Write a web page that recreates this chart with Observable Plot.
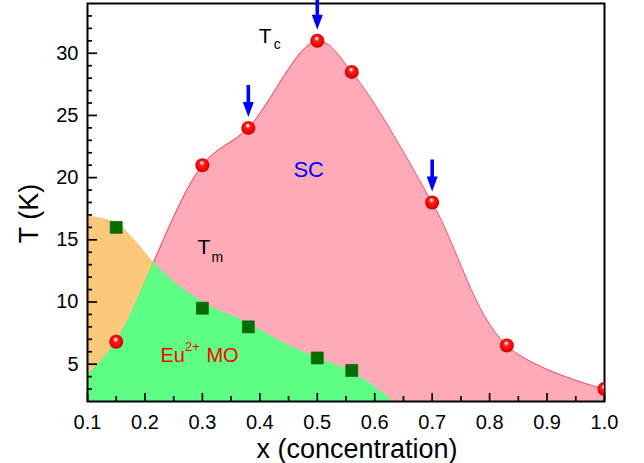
<!DOCTYPE html>
<html><head><meta charset="utf-8">
<script src="https://cdn.jsdelivr.net/npm/d3@7"></script>
<script src="https://cdn.jsdelivr.net/npm/@observablehq/plot@0.6"></script>
<style>html,body{margin:0;padding:0;background:#fff;} #chart svg{display:block;}</style>
</head><body><div id="chart"></div>
<script>
// Tc (superconducting transition) points
const tcX = [0.15, 0.30, 0.38, 0.50, 0.56, 0.70, 0.83, 1.00];
const tcT = [6.8, 21.0, 24.0, 31.0, 28.5, 18.0, 6.5, 3.0];
// Tm (Eu2+ magnetic ordering) points
const tmX = [0.15, 0.30, 0.38, 0.50, 0.56];
const tmT = [16.0, 9.5, 8.0, 5.5, 4.5];
// smooth Tc boundary of the SC dome
const tcCurveX = [0.10, 0.15, 0.30, 0.38, 0.50, 0.56, 0.70, 0.83, 1.00];
const tcCurveT = [4.1, 6.8, 21.0, 24.0, 31.0, 28.5, 18.0, 6.5, 3.0];
// upper edge of the magnetic-order region
const moEdgeX = [0.10, 0.15, 0.184, 0.215, 0.30, 0.38, 0.436, 0.50, 0.56, 0.633];
const moEdgeT = [16.9, 16.4, 14.9, 13.2, 10.0, 8.3, 6.85, 5.5, 4.4, 2.0];
// arrows marking selected samples
const arrowX = [0.38, 0.50, 0.70];
const arrowT = [24.0, 31.0, 18.0];
// ticks
const xTickLabels = [0.1, 0.2, 0.3, 0.4, 0.5, 0.6, 0.7, 0.8, 0.9, 1.0];
const xMinorTicks = [0.15, 0.25, 0.35, 0.45, 0.55, 0.65, 0.75, 0.85, 0.95];
const yTickLabels = [5, 10, 15, 20, 25, 30];
const yMinorTicks = d3.range(3, 34).filter(v => v % 5 !== 0);

const tc = tcX.map((x, i) => ({x, T: tcT[i]}));
const tm = tmX.map((x, i) => ({x, T: tmT[i]}));
const tcCurve = tcCurveX.map((x, i) => ({x, T: tcCurveT[i]}));
const moEdge = moEdgeX.map((x, i) => ({x, T: moEdgeT[i]}));
const arrows = arrowX.map((x, i) => ({x, T: arrowT[i]}));

const W = 644, H = 463, ML = 87, MR = 40, MT = 3, MB = 62;
const PW = W - ML - MR, PH = H - MT - MB;
const T0 = 2;

const arrowSymbol = {
  draw(ctx) {
    ctx.moveTo(-1.8, -43); ctx.lineTo(1.8, -43); ctx.lineTo(1.8, -26);
    ctx.lineTo(5.5, -26); ctx.lineTo(0, -11); ctx.lineTo(-5.5, -26);
    ctx.lineTo(-1.8, -26); ctx.closePath();
  }
};

const font = '"Liberation Sans", Arial, sans-serif';

const chart = Plot.plot({
  width: W, height: H,
  marginLeft: ML, marginRight: MR, marginTop: MT, marginBottom: MB,
  x: {domain: [0.1, 1.0]},
  y: {domain: [2, 34]},
  style: {fontFamily: font, fontSize: "20px", color: "black", background: "white", overflow: "visible"},
  marks: [
    Plot.areaY(moEdge, {x: "x", y1: d => T0, y2: "T", fill: "#fcc97b", curve: "monotone-x"}),
    Plot.areaY(tcCurve, {x: "x", y1: d => T0, y2: "T", fill: "#ffabb7", curve: "catmull-rom"}),
    Plot.line(tcCurve, {x: "x", y: "T", stroke: "#f04a64", strokeWidth: 1, curve: "catmull-rom"}),
    Plot.areaY(moEdge, {x: "x", y1: d => T0, y2: "T", fill: "#5dfe83", curve: "monotone-x"}),
    // inward ticks
    Plot.tickX(xTickLabels, {x: d => d, insetTop: PH - 8, stroke: "black", strokeWidth: 1.7}),
    Plot.tickX(xMinorTicks, {x: d => d, insetTop: PH - 5, stroke: "black", strokeWidth: 1.7}),
    Plot.tickY(yTickLabels, {y: d => d, insetRight: PW - 10, stroke: "black", strokeWidth: 1.7}),
    Plot.tickY(yMinorTicks, {y: d => d, insetRight: PW - 5, stroke: "black", strokeWidth: 1.7}),
    Plot.axisX(xTickLabels, {tickSize: 0, tickPadding: 13, tickFormat: d => d.toFixed(1), fontSize: 20, label: null}),
    Plot.axisY(yTickLabels, {tickSize: 0, tickPadding: 9, fontSize: 20, label: null}),
    Plot.frame({stroke: "black", strokeWidth: 2}),
    // data points
    Plot.dot(tm, {x: "x", y: "T", symbol: "square", r: 6.8, fill: "#006f00", stroke: "#0a5a0a", strokeWidth: 0.6}),
    Plot.dot(tc, {x: "x", y: "T", r: 7, fill: "url(#ball)", stroke: "none", clip: true}),
    Plot.dot(arrows, {x: "x", y: "T", symbol: arrowSymbol, r: 5, fill: "#0000ff", stroke: "none"}),
    // annotations
    Plot.text([{x: 0.398, T: 31.4}], {x: "x", y: "T", text: d => "T", textAnchor: "start", fontSize: 21, fill: "black"}),
    Plot.text([{x: 0.398, T: 31.4}], {x: "x", y: "T", text: d => "c", textAnchor: "start", dx: 15, dy: 9, fontSize: 14, fill: "black"}),
    Plot.text([{x: 0.2915, T: 14.44}], {x: "x", y: "T", text: d => "T", textAnchor: "start", fontSize: 21, fill: "black"}),
    Plot.text([{x: 0.2915, T: 14.44}], {x: "x", y: "T", text: d => "m", textAnchor: "start", dx: 14, dy: 11, fontSize: 14, fill: "black"}),
    Plot.text([{x: 0.485, T: 20.65}], {x: "x", y: "T", text: d => "SC", textAnchor: "middle", fontSize: 22, fill: "#0000ff"}),
    Plot.text([{x: 0.227, T: 5.67}], {x: "x", y: "T", text: d => "Eu", textAnchor: "start", fontSize: 20, fill: "#ff0000"}),
    Plot.text([{x: 0.227, T: 5.67}], {x: "x", y: "T", text: d => "2+", textAnchor: "start", dx: 24.5, dy: -9.5, fontSize: 13, fill: "#ff0000"}),
    Plot.text([{x: 0.227, T: 5.67}], {x: "x", y: "T", text: d => "MO", textAnchor: "start", dx: 46, fontSize: 20, fill: "#ff0000"}),
    // axis titles
    Plot.text(["T (K)"], {frameAnchor: "left", text: d => d, rotate: -90, textAnchor: "middle", lineAnchor: "middle", dx: -58, dy: 11, fontSize: 27, fill: "black"}),
    Plot.text(["x (concentration)"], {frameAnchor: "bottom", text: d => d, textAnchor: "middle", lineAnchor: "middle", dx: 11, dy: 48, fontSize: 27, fill: "black"})
  ]
});

const svg = d3.select(chart);
const defs = svg.insert("defs", ":first-child");
const grad = defs.append("radialGradient").attr("id", "ball")
  .attr("cx", "50%").attr("cy", "50%").attr("r", "55%").attr("fx", "45%").attr("fy", "30%");
[["0%", "#ffffff"], ["14%", "#ffc8c8"], ["32%", "#ff2020"], ["75%", "#f20000"], ["100%", "#b00000"]]
  .forEach(([o, c]) => grad.append("stop").attr("offset", o).attr("stop-color", c));
const areas = chart.querySelectorAll('g[aria-label="area"]');
if (areas.length === 3) {
  const scPath = areas[1].querySelector("path");
  defs.append("clipPath").attr("id", "scClip").append("path").attr("d", scPath.getAttribute("d"));
  d3.select(areas[2]).attr("clip-path", "url(#scClip)");
}
document.getElementById("chart").appendChild(chart);
</script>
</body></html>
